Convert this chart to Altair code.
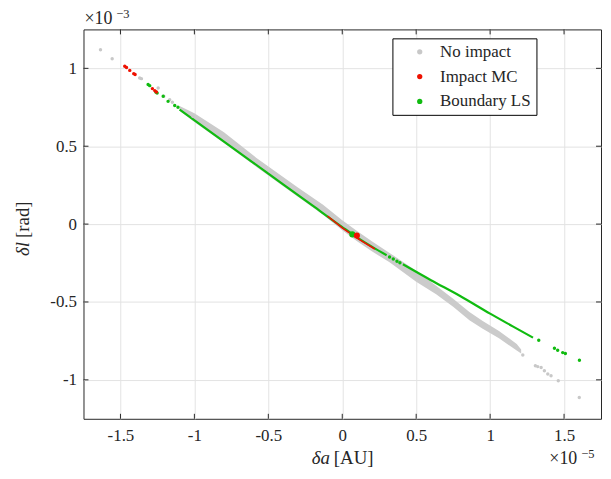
import altair as alt
import pandas as pd

# ---- axis ticks (x in units of 1e-5 AU, y in units of 1e-3 rad) ----
x_ticks = [-1.5, -1, -0.5, 0, 0.5, 1, 1.5]
y_ticks = [-1, -0.5, 0, 0.5, 1]

# ---- "No impact": dense band (upper / lower edge) ----
band_x = [-1.10, -1.0, -0.8, -0.58, -0.3, -0.13, 0.0, 0.1, 0.2, 0.32, 0.5, 0.635, 0.75, 0.86, 0.95, 1.06, 1.18, 1.21]
band_hi = [0.758, 0.712, 0.590, 0.425, 0.235, 0.125, 0.025, -0.045, -0.110, -0.185, -0.300, -0.395, -0.480, -0.565, -0.622, -0.686, -0.770, -0.805]
band_lo = [0.728, 0.655, 0.520, 0.367, 0.175, 0.060, -0.040, -0.110, -0.175, -0.245, -0.370, -0.450, -0.530, -0.618, -0.672, -0.733, -0.812, -0.830]

# ---- "No impact": isolated samples ----
gray_x = [-1.635, -1.556, -1.370, -1.358, -1.245, -1.207, -1.167, -1.149, -1.01,
          1.221, 1.306, 1.322, 1.345, 1.367, 1.390, 1.412, 1.461, 1.603]
gray_y = [1.120, 1.062, 0.938, 0.934, 0.874, 0.821, 0.799, 0.782, 0.692,
          -0.840, -0.910, -0.915, -0.921, -0.942, -0.963, -0.974, -1.006, -1.113]

# ---- "Boundary LS": continuous segments ----
green_a_x = [-1.10, -0.8, -0.5, -0.2, 0.0, 0.1, 0.2, 0.30]
green_a_y = [0.735, 0.530, 0.324, 0.118, -0.019, -0.085, -0.145, -0.200]
green_b_x = [0.41, 0.6, 0.8, 1.0, 1.15, 1.29]
green_b_y = [-0.258, -0.360, -0.463, -0.575, -0.655, -0.729]

# ---- "Boundary LS": isolated samples ----
green_x = [-1.313, -1.302, -1.261, -1.252, -1.211, -1.178, -1.133, -1.111,
           0.32, 0.345, 0.37, 0.39,
           1.329, 1.435, 1.457, 1.491, 1.509, 1.604]
green_y = [0.896, 0.889, 0.848, 0.842, 0.821, 0.788, 0.761, 0.750,
           -0.211, -0.224, -0.238, -0.248,
           -0.746, -0.797, -0.810, -0.825, -0.831, -0.874]

# ---- "Impact MC" ----
red_x = [-1.471, -1.459, -1.437, -1.410, -1.401, -1.284, -1.268, -1.257]
red_y = [1.013, 1.006, 0.987, 0.966, 0.960, 0.870, 0.857, 0.848]
red_line_x = [-0.10, 0.0, 0.10, 0.22]
red_line_y = [0.052, -0.024, -0.090, -0.160]

# ---- nominal solutions ----
nom_x = [0.068, 0.099]
nom_y = [-0.066, -0.073]
nom_c = ["Boundary LS", "Impact MC"]

categories = ["No impact", "Impact MC", "Boundary LS"]
colors = ["#c8c8c8", "#ee1100", "#10bb10"]

FONT = "Liberation Serif"
INK = "#262626"
W, H = 521, 392

xs = alt.Scale(domain=[-1.75, 1.75], nice=False, zero=False)
ys = alt.Scale(domain=[-1.25, 1.25], nice=False, zero=False)
xaxis = alt.Axis(values=x_ticks, labelExpr="'' + datum.value", title=None, grid=True,
                 ticks=False, domain=False, labelFont=FONT, labelFontSize=17,
                 labelColor=INK, labelPadding=9, gridColor="#e3e3e3")
yaxis = alt.Axis(values=y_ticks, labelExpr="'' + datum.value", title=None, grid=True,
                 ticks=False, domain=False, labelFont=FONT, labelFontSize=17,
                 labelColor=INK, labelPadding=7, gridColor="#e3e3e3")

X = alt.X("x:Q", scale=xs, axis=xaxis)
Y = alt.Y("y:Q", scale=ys, axis=yaxis)

band_df = pd.DataFrame({"x": band_x, "y": band_hi, "y2": band_lo})
band = alt.Chart(band_df).mark_area(color="#cbcbcb").encode(x=X, y=Y, y2="y2:Q")

ga = pd.DataFrame({"x": green_a_x, "y": green_a_y, "s": "a"})
gb = pd.DataFrame({"x": green_b_x, "y": green_b_y, "s": "b"})
glines = alt.Chart(pd.concat([ga, gb])).mark_line(
    color=colors[2], strokeWidth=2.2, interpolate="monotone").encode(x=X, y=Y, detail="s:N")

pts = pd.concat([
    pd.DataFrame({"x": gray_x, "y": gray_y, "type": "No impact"}),
    pd.DataFrame({"x": green_x, "y": green_y, "type": "Boundary LS"}),
    pd.DataFrame({"x": red_x, "y": red_y, "type": "Impact MC"}),
])
points = alt.Chart(pts).mark_circle(size=12, opacity=1).encode(
    x=X, y=Y,
    color=alt.Color("type:N", scale=alt.Scale(domain=categories, range=colors),
                    sort=categories,
                    legend=alt.Legend(orient="none", legendX=311, legendY=9, title=None,
                                      strokeColor="#000000", fillColor="white",
                                      padding=5, symbolOffset=14, labelOffset=12,
                                      symbolType="circle", symbolSize=28,
                                      symbolStrokeWidth=0,
                                      labelFont=FONT, labelFontSize=17, labelColor=INK,
                                      rowPadding=7, labelLimit=200)),
)

red_line = alt.Chart(pd.DataFrame({"x": red_line_x, "y": red_line_y})).mark_line(
    color=colors[1], strokeWidth=1.6).encode(x=X, y=Y)

nom = alt.Chart(pd.DataFrame({"x": nom_x, "y": nom_y, "c": nom_c})).mark_circle(
    size=38, opacity=1).encode(
    x=X, y=Y,
    color=alt.Color("c:N", scale=alt.Scale(domain=categories, range=colors), legend=None))

# inward tick marks on all four sides
tx = pd.DataFrame({"x": x_ticks})
ty = pd.DataFrame({"y": y_ticks})
tick_bottom = alt.Chart(tx).mark_rule(color=INK).encode(x=X, y=alt.value(H), y2=alt.value(H - 5))
tick_top = alt.Chart(tx).mark_rule(color=INK).encode(x=X, y=alt.value(0), y2=alt.value(5))
tick_left = alt.Chart(ty).mark_rule(color=INK).encode(y=Y, x=alt.value(0), x2=alt.value(5))
tick_right = alt.Chart(ty).mark_rule(color=INK).encode(y=Y, x=alt.value(W), x2=alt.value(W - 5))


def txt(s, x, y, size=17, style="normal", align="left", angle=0):
    return alt.Chart(pd.DataFrame({"t": [s]})).mark_text(
        font=FONT, fontSize=size, fontStyle=style, align=align, baseline="middle",
        angle=angle, color=INK).encode(text="t:N", x=alt.value(x), y=alt.value(y))


texts = [
    txt("δa", 248, 432, size=19, style="italic", align="right"),
    txt("[AU]", 252, 432, size=19),
    txt("δl", -61, 214, size=19, style="italic", align="right", angle=270),
    txt("[rad]", -61, 210, size=19, align="left", angle=270),
    txt("×10", 1, -10, size=18),
    txt("−3", 33, -15, size=12.5),
    txt("×10", 469, 433, size=18),
    txt("−5", 501, 427, size=12.5),
]

chart = alt.layer(
    band, glines, points, red_line, nom,
    tick_bottom, tick_top, tick_left, tick_right, *texts
).properties(
    width=W, height=H,
    padding={"left": 76, "top": 20, "right": 2, "bottom": 51},
    autosize=alt.AutoSizeParams(type="none"),
    background="white",
).configure_view(stroke=INK, strokeWidth=1)

chart.save("out.html", embed_options={"renderer": "svg", "actions": False})
